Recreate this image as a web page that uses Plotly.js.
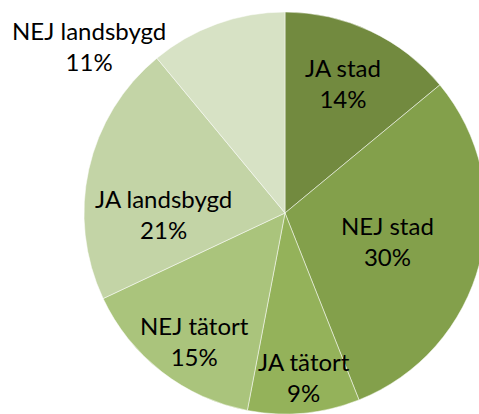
<!DOCTYPE html>
<html>
<head>
<meta charset="utf-8">
<script src="https://cdn.plot.ly/plotly-3.0.1.min.js"></script>
<style>
html,body{margin:0;padding:0;overflow:hidden;width:479px;height:414px;background:#fff;}
#chart{width:490px;height:420px;}
</style>
</head>
<body>
<div id="chart"></div>
<script>
const labels = ["JA stad", "NEJ stad", "JA tätort", "NEJ tätort", "JA landsbygd", "NEJ landsbygd"];
const values = [14, 30, 9, 15, 21, 11];
const colors = ["#728a3f", "#83a04b", "#94b25a", "#aac47c", "#c3d4a6", "#d7e2c5"];

// label block centres, in pixels from the top-left of the page
const labelPos = [[343, 83], [387, 241], [304, 377], [194, 341], [163, 214], [89, 46]];

const W = 490, H = 420;
const total = values.reduce((a, b) => a + b, 0);
const trace = {
  type: "pie",
  labels: labels,
  values: values,
  sort: false,
  direction: "clockwise",
  rotation: 0,
  marker: {colors: colors, line: {color: "#ffffff", width: 0.5}},
  textinfo: "none",
  hoverinfo: "none",
  domain: {x: [84 / W, 486 / W], y: [(H - 414) / H, (H - 12) / H]}
};
const annotations = labels.map((lab, i) => ({
  xref: "paper", yref: "paper",
  x: labelPos[i][0] / W, y: 1 - labelPos[i][1] / H,
  xanchor: "center", yanchor: "middle",
  text: lab + "<br>" + Math.round(values[i] / total * 100) + "%",
  showarrow: false,
  align: "center",
  font: {family: "Lato, 'DejaVu Sans', sans-serif", size: 24, color: "#000000"}
}));
const layout = {
  width: W, height: H,
  margin: {l: 0, r: 0, t: 0, b: 0},
  showlegend: false,
  paper_bgcolor: "#ffffff",
  annotations: annotations
};
Plotly.newPlot("chart", [trace], layout, {staticPlot: true});
</script>
</body>
</html>
